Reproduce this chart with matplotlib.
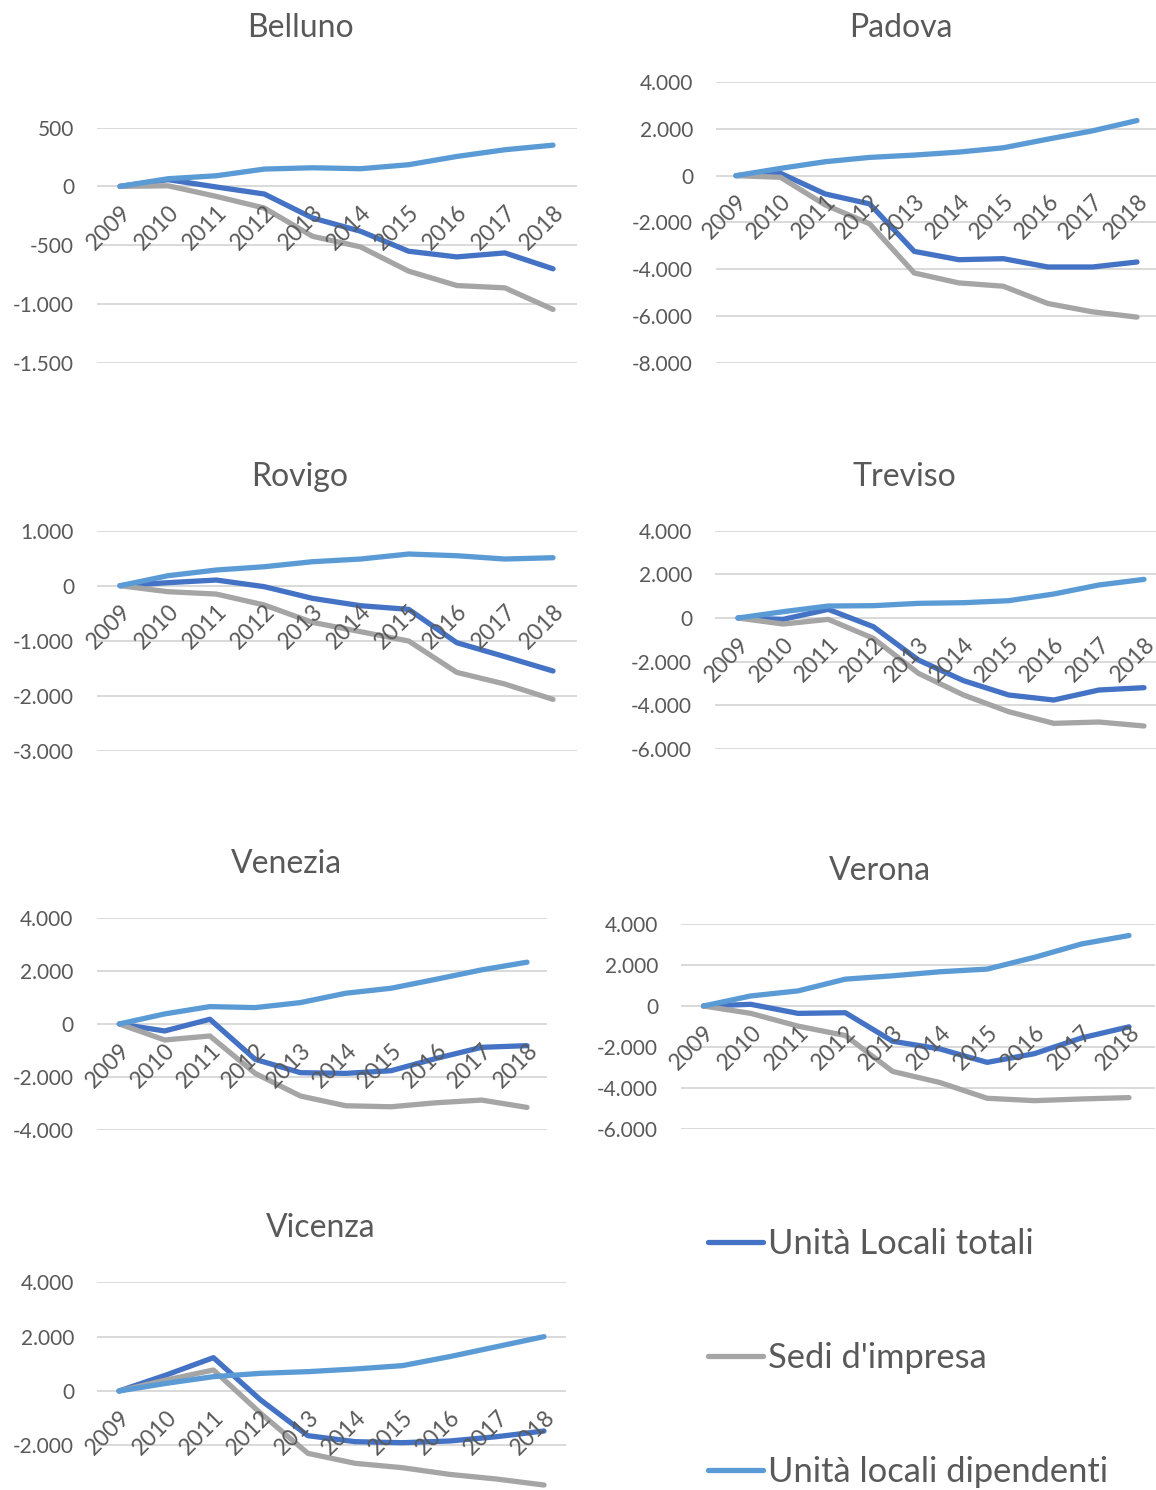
import matplotlib
matplotlib.use("Agg")
import matplotlib.pyplot as plt
from matplotlib.lines import Line2D
from matplotlib.ticker import FixedLocator, FuncFormatter

W, H = 1156, 1490
DPI = 100

YEARS = ["2009", "2010", "2011", "2012", "2013", "2014", "2015", "2016", "2017", "2018"]
SERIES = ["Unità Locali totali", "Sedi d'impresa", "Unità locali dipendenti"]
COLORS = ["#4472C4", "#A5A5A5", "#5B9BD5"]
TEXT = "#595959"
GRID = "#D9D9D9"

BELLUNO_TOT = [0, 57, -5, -65, -268, -381, -551, -599, -565, -700]
BELLUNO_SEDI = [0, 5, -85, -184, -424, -514, -720, -842, -862, -1045]
BELLUNO_DIP = [0, 65, 90, 147, 158, 150, 184, 254, 311, 350]

PADOVA_TOT = [0, 100, -780, -1205, -3233, -3588, -3545, -3900, -3900, -3687]
PADOVA_SEDI = [0, -70, -1248, -2056, -4155, -4580, -4722, -5460, -5814, -6041]
PADOVA_DIP = [0, 312, 595, 780, 879, 1007, 1191, 1560, 1914, 2354]

ROVIGO_TOT = [0, 55, 103, -18, -230, -364, -430, -1036, -1290, -1551]
ROVIGO_SEDI = [0, -109, -152, -351, -667, -836, -1006, -1576, -1788, -2067]
ROVIGO_DIP = [0, 182, 285, 345, 436, 485, 576, 545, 485, 509]

TREVISO_TOT = [0, -61, 397, -397, -1924, -2870, -3527, -3756, -3298, -3191]
TREVISO_SEDI = [0, -275, -61, -931, -2535, -3527, -4291, -4825, -4764, -4947]
TREVISO_DIP = [0, 290, 550, 565, 672, 702, 794, 1100, 1512, 1771]

VENEZIA_TOT = [0, -265, 177, -1340, -1845, -1871, -1770, -1302, -885, -822]
VENEZIA_SEDI = [0, -607, -455, -1871, -2730, -3097, -3135, -2983, -2882, -3160]
VENEZIA_DIP = [0, 379, 657, 619, 809, 1163, 1352, 1694, 2048, 2338]

VERONA_TOT = [0, 82, -360, -327, -1719, -2095, -2750, -2325, -1555, -1015]
VERONA_SEDI = [0, -360, -982, -1440, -3192, -3733, -4502, -4617, -4535, -4469]
VERONA_DIP = [0, 491, 737, 1310, 1473, 1670, 1801, 2374, 3029, 3438]

VICENZA_TOT = [0, 589, 1227, -331, -1644, -1865, -1902, -1840, -1681, -1472]
VICENZA_SEDI = [0, 405, 773, -822, -2294, -2662, -2822, -3068, -3240, -3460]
VICENZA_DIP = [0, 282, 528, 650, 712, 810, 933, 1264, 1632, 2000]

# name, data, y axis (min, max, step, lowest labelled tick),
# plot box in px: left, right, y of max, y of min; x of first/last year; title centre
PANELS = [
    ("Belluno", (BELLUNO_TOT, BELLUNO_SEDI, BELLUNO_DIP), (-1500, 500, 500, -1500),
     (97, 577, 127.5, 363), (120, 553), (300, 28)),
    ("Padova", (PADOVA_TOT, PADOVA_SEDI, PADOVA_DIP), (-8000, 4000, 2000, -8000),
     (716, 1158, 82, 363), (736, 1137), (901, 28)),
    ("Rovigo", (ROVIGO_TOT, ROVIGO_SEDI, ROVIGO_DIP), (-3000, 1000, 1000, -3000),
     (97, 577, 530.7, 750.7), (120, 553), (300, 477)),
    ("Treviso", (TREVISO_TOT, TREVISO_SEDI, TREVISO_DIP), (-6000, 4000, 2000, -6000),
     (715, 1158, 530.7, 749), (738, 1144), (904, 477)),
    ("Venezia", (VENEZIA_TOT, VENEZIA_SEDI, VENEZIA_DIP), (-4000, 4000, 2000, -4000),
     (96.5, 547, 918.3, 1129.6), (119.3, 527), (286, 864)),
    ("Verona", (VERONA_TOT, VERONA_SEDI, VERONA_DIP), (-6000, 4000, 2000, -6000),
     (681, 1155, 924, 1129), (703.5, 1129), (880, 871)),
    # the bottom of this chart is cut off by the picture edge
    ("Vicenza", (VICENZA_TOT, VICENZA_SEDI, VICENZA_DIP), (-4000, 4000, 2000, -2000),
     (97, 566, 1282.3, 1499.7), (119, 544), (321, 1228)),
]

plt.rcParams["font.family"] = ["Lato", "DejaVu Sans"]

fig = plt.figure(figsize=(W / DPI, H / DPI), dpi=DPI)


def fmt_thousands(v, _pos):
    return f"{int(round(v)):,}".replace(",", ".")


for name, data, (ymin, ymax, step, ylow), (left, right, top, bottom), (x0, x9), (tx, ty) in PANELS:
    ax = fig.add_axes([left / W, 1 - bottom / H, (right - left) / W, (bottom - top) / H])
    ax.patch.set_alpha(0)

    # category axis crosses at zero, labels hang from it (set before ticks: this resets them)
    ax.spines["bottom"].set_position(("data", 0))
    for side in ("top", "right", "left", "bottom"):
        ax.spines[side].set_visible(False)

    xs = list(range(len(YEARS)))
    for values, color in zip(data, COLORS):
        ax.plot(xs, values, color=color, linewidth=3.8,
                solid_capstyle="round", solid_joinstyle="round", zorder=2)

    unit = (x9 - x0) / (len(YEARS) - 1)
    ax.set_xlim(-(x0 - left) / unit, len(YEARS) - 1 + (right - x9) / unit)
    ax.set_ylim(ymin, ymax)

    ax.yaxis.set_major_locator(FixedLocator(list(range(ylow, ymax + 1, step))))
    ax.yaxis.set_major_formatter(FuncFormatter(fmt_thousands))
    ax.grid(axis="y", color=GRID, linewidth=1.4)
    ax.yaxis.set_zorder(0.5)
    if ylow > ymin:
        ax.axhline(ymin, color=GRID, linewidth=1.4, zorder=0.5)

    ax.set_xticks(xs)
    ax.set_xticklabels(YEARS)
    ax.xaxis.set_zorder(3)
    ax.tick_params(axis="y", length=0, pad=16.5, labelsize=15, labelcolor=TEXT)
    ax.tick_params(axis="x", length=0, pad=11, labelsize=16.5, labelcolor=TEXT, labelrotation=45)
    for lab in ax.get_xticklabels():
        lab.set_ha("right")
        lab.set_va("top")
        lab.set_rotation_mode("anchor")

    fig.text(tx / W, 1 - ty / H, name, ha="center", va="center", fontsize=23, color=TEXT)

handles = [Line2D([], [], color=c, linewidth=3.8, solid_capstyle="round") for c in COLORS]
fig.legend(handles, SERIES, loc="center left", bbox_to_anchor=(708 / W, 1 - 1358 / H),
           frameon=False, fontsize=24.8, labelcolor=TEXT, handlelength=1.6,
           handletextpad=0.15, labelspacing=2.38, borderpad=0, borderaxespad=0)

fig.savefig("out.png", dpi=DPI)
